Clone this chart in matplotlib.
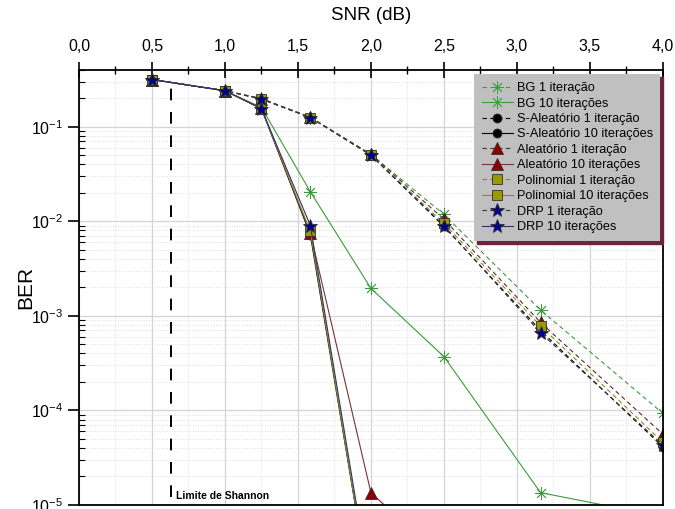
import matplotlib
matplotlib.use('Agg')
import matplotlib.pyplot as plt
from matplotlib.ticker import FixedLocator, FuncFormatter, LogLocator

plt.rcParams['font.family'] = ['Liberation Sans', 'DejaVu Sans']
plt.rcParams['mathtext.default'] = 'regular'

# ---- dados ----
snr = [0.5, 1.0, 1.25, 1.585, 2.0, 2.5, 3.162, 4.0]

bg_1 = [0.315, 0.24, 0.198, 0.125, 0.051, 0.0118, 1.15e-3, 9.3e-5]
sale_1 = [0.315, 0.24, 0.195, 0.125, 0.050, 0.0088, 7.0e-4, 4.1e-5]
ale_1 = [0.315, 0.24, 0.198, 0.126, 0.051, 0.0105, 8.5e-4, 5.6e-5]
pol_1 = [0.315, 0.24, 0.196, 0.125, 0.050, 0.0095, 7.8e-4, 4.6e-5]
drp_1 = [0.315, 0.24, 0.197, 0.125, 0.050, 0.0090, 6.6e-4, 4.3e-5]

bg_10 = [0.315, 0.24, 0.16, 0.0205, 1.95e-3, 3.7e-4, 1.35e-5, 7.5e-6]
sale_10 = [0.315, 0.24, 0.155, 7.2e-3, 1.0e-6]
ale_10 = [0.315, 0.24, 0.156, 7.5e-3, 1.35e-5, 2.6e-6]
pol_10 = [0.315, 0.24, 0.156, 7.8e-3, 1.0e-6]
drp_10 = [0.315, 0.24, 0.155, 9.0e-3, 1.2e-6]

shannon = 0.63
x_ticks = [0.0, 0.5, 1.0, 1.5, 2.0, 2.5, 3.0, 3.5, 4.0]

fig = plt.figure(figsize=(6.75, 5.09), dpi=100)
ax = fig.add_axes([0.117, 0.008, 0.865, 0.855])

green = '#3c9c3c'
red = '#8b0000'
olive = '#9a9a00'
navy = '#00008b'

series = [
    (bg_1, 'BG 1 iteração', green, green, (8, 2, 0), 9, '--'),
    (bg_10, 'BG 10 iterações', green, green, (8, 2, 0), 9, '-'),
    (sale_1, 'S-Aleatório 1 iteração', 'black', 'black', 'o', 6.5, '--'),
    (sale_10, 'S-Aleatório 10 iterações', 'black', 'black', 'o', 6.5, '-'),
    (ale_1, 'Aleatório 1 iteração', '#5a2a2a', red, '^', 8, '--'),
    (ale_10, 'Aleatório 10 iterações', '#7b2f3f', red, '^', 8, '-'),
    (pol_1, 'Polinomial 1 iteração', '#8a8a20', olive, 's', 6.5, '--'),
    (pol_10, 'Polinomial 10 iterações', '#8a8a20', olive, 's', 6.5, '-'),
    (drp_1, 'DRP 1 iteração', '#303050', navy, '*', 10.5, '--'),
    (drp_10, 'DRP 10 iterações', '#303070', navy, '*', 10.5, '-'),
]

for vals, label, lc, mc, mk, ms, ls in series:
    edge = mc if mk == (8, 2, 0) else '#303030'
    ax.plot(snr[:len(vals)], vals, linestyle=ls, color=lc, linewidth=0.8,
            marker=mk, markersize=ms, markerfacecolor=mc, markeredgecolor=edge,
            markeredgewidth=0.6, label=label, dashes=(4, 3) if ls == '--' else (None, None))

ax.set_yscale('log')
ax.set_xlim(0, 4.0)
ax.set_ylim(1e-5, 0.4)

# eixo x no topo
ax.xaxis.tick_top()
ax.xaxis.set_label_position('top')
ax.xaxis.set_major_locator(FixedLocator(x_ticks))
ax.xaxis.set_minor_locator(FixedLocator([0.25, 0.75, 1.25, 1.75, 2.25, 2.75, 3.25, 3.75]))
ax.xaxis.set_major_formatter(FuncFormatter(lambda v, p: f'{v:.1f}'.replace('.', ',')))
ax.yaxis.set_minor_locator(LogLocator(base=10, subs=range(2, 10)))

ax.tick_params(axis='x', which='major', direction='inout', length=12, width=1.2, labelsize=11.5, pad=5)
ax.tick_params(axis='x', which='minor', direction='inout', length=6, width=1.0)
ax.tick_params(axis='y', which='major', direction='out', length=8, width=1.2, labelsize=11.5)
ax.tick_params(axis='y', which='minor', direction='in', length=4, width=0.8)

ax.set_xlabel('SNR (dB)', fontsize=13.5, labelpad=14)
ax.set_ylabel('BER', fontsize=15, labelpad=-3)

for s in ax.spines.values():
    s.set_linewidth(1.3)

ax.grid(True, which='major', color='#d4d4d4', linewidth=0.9, linestyle='-')
ax.grid(True, which='minor', color='#dedede', linewidth=0.7, linestyle=':')
ax.set_axisbelow(True)

# limite de Shannon
ax.axvline(shannon, ymin=0.018, ymax=0.977, color='black', linewidth=1.4, dashes=(6, 6))
ax.text(shannon + 0.035, 1.25e-5, 'Limite de Shannon', fontsize=7.5, fontweight='bold',
        va='center', ha='left')

leg = ax.legend(loc='upper right', bbox_to_anchor=(1.0, 0.995), fontsize=9.2,
                facecolor='#c0c0c0', edgecolor='none', framealpha=1, fancybox=False,
                shadow={'color': '#6e2440', 'alpha': 1.0}, borderaxespad=0.2,
                labelspacing=0.27, handlelength=2.4, handletextpad=0.3, borderpad=0.6)

fig.savefig('out.png', dpi=100)
